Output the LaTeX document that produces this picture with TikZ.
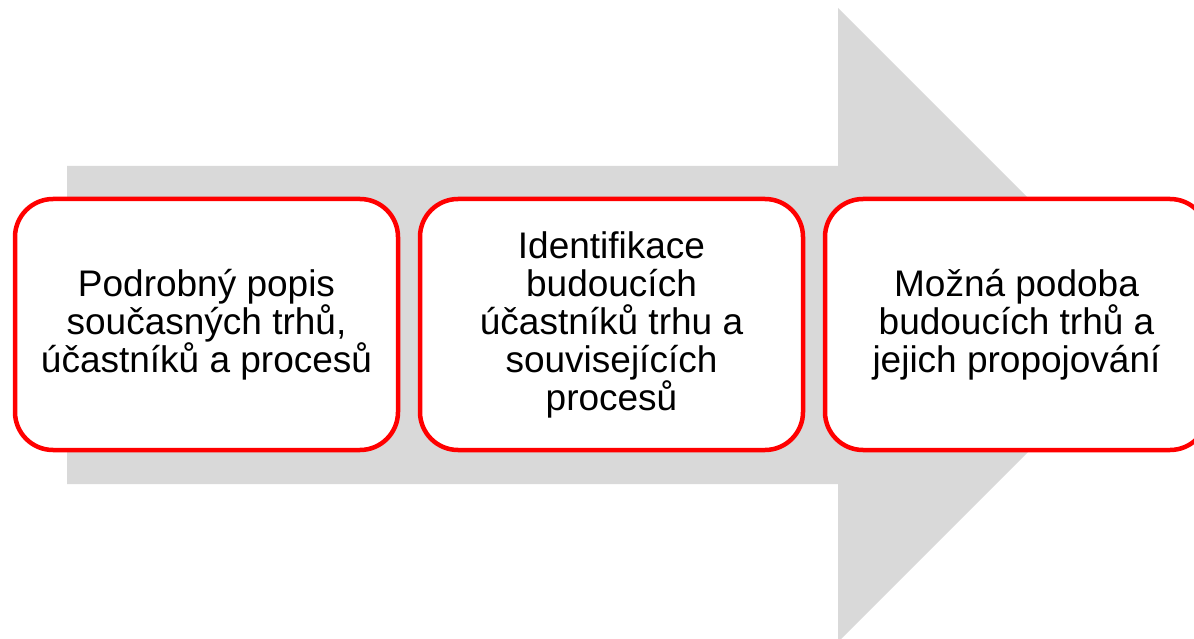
\documentclass[tikz,border=0pt]{standalone}
\usepackage{fontspec}
\setmainfont{Liberation Sans}
\usepackage{tikz}

\definecolor{arrowgray}{HTML}{D9D9D9}
\definecolor{boxred}{HTML}{FF0000}

\tikzset{
    stagebox/.style={draw=boxred, line width=4.5pt, fill=white, rounded corners=38pt,
        minimum width=383pt, minimum height=251pt, align=center,
        font=\fontsize{37}{38}\selectfont, inner sep=0pt}
}

\begin{document}
\begin{tikzpicture}[x=1pt, y=-1pt]
            \useasboundingbox (0, 0) rectangle (1194, 639);

            % big arrow behind the boxes
            \fill[arrowgray] (67, 166) -- (838, 166) -- (838, 8) -- (1155, 325)
                -- (838, 642) -- (838, 484) -- (67, 484) -- cycle;

            \node[stagebox] (s1) at (206.5, 324.5) {Podrobný popis\\současných trhů,\\účastníků a procesů};
            \node[stagebox] (s2) at (611.5, 324.5) {Identifikace\\budoucích\\účastníků trhu a\\souvisejících\\procesů};
            \node[stagebox] (s3) at (1016.5, 324.5) {Možná podoba\\budoucích trhů a\\jejich propojování};
        \end{tikzpicture}
\end{document}
